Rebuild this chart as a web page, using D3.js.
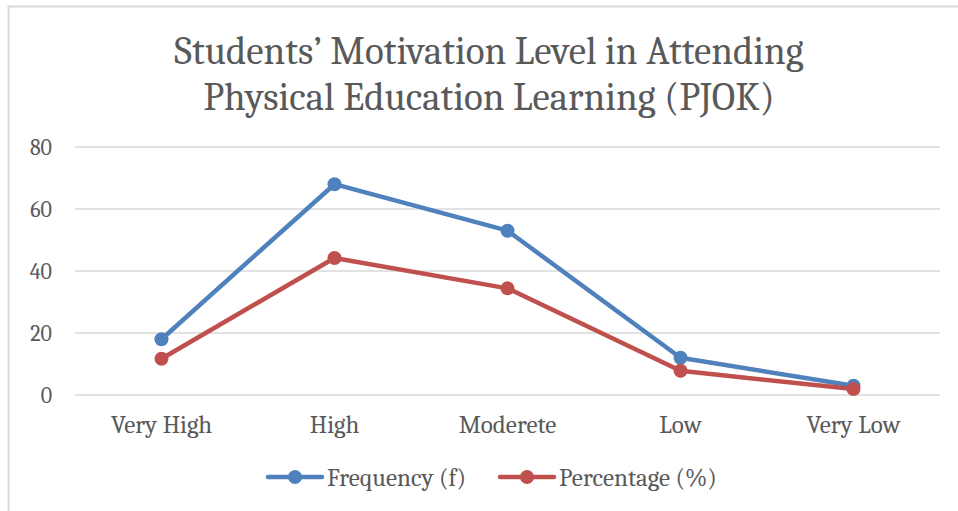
<!DOCTYPE html>
<html>
<head>
<meta charset="utf-8">
<script src="https://cdn.jsdelivr.net/npm/d3@7"></script>
<style>
  body { margin: 0; background: #fff; }
  text { font-family: Cambria, "Liberation Serif", serif; fill: #595959; }
</style>
</head>
<body>
<div id="chart"></div>
<script>
// data
const categories = ["Very High", "High", "Moderete", "Low", "Very Low"];
const frequency = [18, 68, 53, 12, 3];
const percentage = [11.7, 44.2, 34.4, 7.8, 1.9];
const yTicks = [0, 20, 40, 60, 80];
const seriesNames = ["Frequency (f)", "Percentage (%)"];
const colors = ["#4f81bd", "#c0504d"];

const W = 958, H = 511;
const margin = { top: 147, right: 18, bottom: 116, left: 75 };
const width = W - margin.left - margin.right;
const height = H - margin.top - margin.bottom;

const svg = d3.select("#chart").append("svg")
    .attr("width", W)
    .attr("height", H);

// chart frame (runs off the right and bottom edge)
svg.append("rect")
    .attr("x", 8.5).attr("y", 6.5)
    .attr("width", W + 20).attr("height", H + 20)
    .attr("fill", "none")
    .attr("stroke", "#d9d9d9")
    .attr("stroke-width", 2);

// title
const title = svg.append("text")
    .attr("text-anchor", "middle")
    .attr("font-size", 39);
title.append("tspan").attr("x", 489).attr("y", 64).text("Students’ Motivation Level in Attending");
title.append("tspan").attr("x", 489).attr("y", 110).text("Physical Education Learning (PJOK)");

const g = svg.append("g")
    .attr("transform", `translate(${margin.left},${margin.top})`);

const x = d3.scaleBand()
    .domain(categories)
    .range([0, width]);

const y = d3.scaleLinear()
    .domain([0, 80])
    .range([height, 0]);

// gridlines
g.selectAll(".grid")
    .data(yTicks)
    .enter().append("line")
    .attr("x1", 0).attr("x2", width)
    .attr("y1", d => y(d)).attr("y2", d => y(d))
    .attr("stroke", "#d9d9d9")
    .attr("stroke-width", 1.5);

// y axis labels
const yAxis = g.append("g")
    .call(d3.axisLeft(y).tickValues(yTicks).tickSize(0).tickPadding(23));
yAxis.select(".domain").remove();
yAxis.attr("font-family", null);
yAxis.selectAll("text")
    .attr("font-size", 22)
    .attr("fill", "#595959");

// x axis labels
const xAxis = g.append("g")
    .attr("transform", `translate(0,${height})`)
    .call(d3.axisBottom(x).tickSize(0).tickPadding(20));
xAxis.select(".domain").remove();
xAxis.attr("font-family", null);
xAxis.selectAll("text")
    .attr("font-size", 25)
    .attr("fill", "#595959");

// series
const series = [frequency, percentage];
const line = d3.line()
    .x((d, i) => x(categories[i]) + x.bandwidth() / 2)
    .y(d => y(d));

series.forEach((vals, s) => {
    g.append("path")
        .datum(vals)
        .attr("d", line)
        .attr("fill", "none")
        .attr("stroke", colors[s])
        .attr("stroke-width", 4.5)
        .attr("stroke-linejoin", "round")
        .attr("stroke-linecap", "round");

    g.selectAll(".dot" + s)
        .data(vals)
        .enter().append("circle")
        .attr("cx", (d, i) => x(categories[i]) + x.bandwidth() / 2)
        .attr("cy", d => y(d))
        .attr("r", 7)
        .attr("fill", colors[s]);
});

// legend
const legendX = [268, 500];
const legend = svg.append("g").attr("transform", "translate(0,477)");
seriesNames.forEach((name, s) => {
    const lg = legend.append("g").attr("transform", `translate(${legendX[s]},0)`);
    lg.append("line")
        .attr("x1", 0).attr("x2", 54)
        .attr("stroke", colors[s])
        .attr("stroke-width", 4.5)
        .attr("stroke-linecap", "round");
    lg.append("circle")
        .attr("cx", 27).attr("r", 7)
        .attr("fill", colors[s]);
    lg.append("text")
        .attr("x", 59).attr("y", 9)
        .attr("font-size", 25)
        .text(name);
});
</script>
</body>
</html>
